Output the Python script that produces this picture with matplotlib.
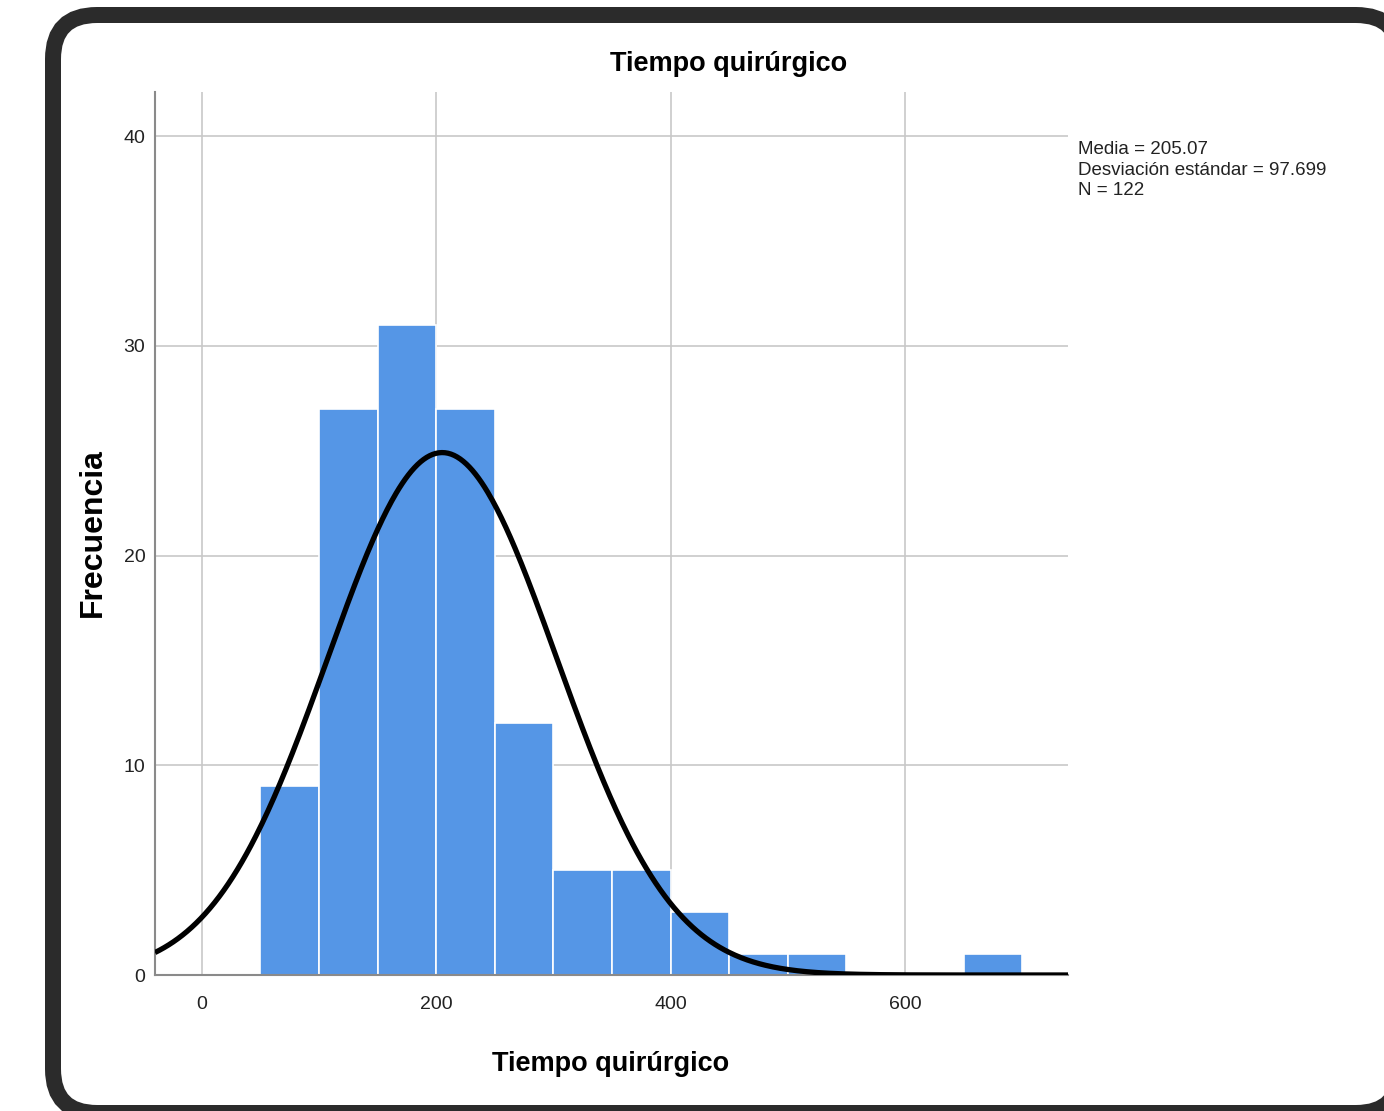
import numpy as np
import matplotlib
matplotlib.use("Agg")
import matplotlib.pyplot as plt
from matplotlib.patches import FancyBboxPatch

# Datos del histograma
bin_edges = [50, 100, 150, 200, 250, 300, 350, 400, 450, 500, 550, 600, 650, 700]
frecuencias = [9, 27, 31, 27, 12, 5, 5, 3, 1, 1, 0, 0, 1]
media = 205.07
desv = 97.699
n_total = 122

x_ticks = [0, 200, 400, 600]
y_ticks = [0, 10, 20, 30, 40]

plt.rcParams['font.family'] = ['Liberation Sans', 'DejaVu Sans']

W, H = 1384, 1111
fig = plt.figure(figsize=(W / 100, H / 100), dpi=100)

# Marco redondeado de fondo
bg = fig.add_axes([0, 0, 1, 1], zorder=0)
bg.set_xlim(0, W)
bg.set_ylim(H, 0)
bg.axis("off")
marco = FancyBboxPatch((53, 15), 1400 - 53, 1113 - 15,
                       boxstyle="round,pad=0,rounding_size=44",
                       linewidth=16 * 0.72, edgecolor='#2b2b2b', facecolor='white')
bg.add_patch(marco)

# Ejes del histograma
ax = fig.add_axes([155 / W, 1 - 975 / H, (1068 - 155) / W, (975 - 92) / H], zorder=1)
ax.patch.set_alpha(0)

anchos = np.diff(bin_edges)
ax.bar(bin_edges[:-1], frecuencias, width=anchos, align='edge',
       color='#5596e6', edgecolor='white', linewidth=1.2, zorder=2)

# Curva normal
bw = bin_edges[1] - bin_edges[0]
xs = np.linspace(-40, 740, 600)
ys = n_total * bw / (desv * np.sqrt(2 * np.pi)) * np.exp(-0.5 * ((xs - media) / desv) ** 2)
ax.plot(xs, ys, color='black', linewidth=3.8, zorder=3, solid_capstyle='butt')

ax.set_xlim(-40, 739)
ax.set_ylim(0, 42.1)
ax.set_xticks(x_ticks)
ax.set_yticks(y_ticks)
ax.grid(True, color='#c8c8c8', linewidth=1.2, zorder=0)
ax.set_axisbelow(True)
for s in ['top', 'right']:
    ax.spines[s].set_visible(False)
for s in ['left', 'bottom']:
    ax.spines[s].set_color('#8a8a8a')
    ax.spines[s].set_linewidth(1.5)
ax.tick_params(length=0, labelsize=14, colors='#222222')
ax.tick_params(axis='x', pad=15)
ax.tick_params(axis='y', pad=7)

fig.text(729 / W, 1 - 64 / H, "Tiempo quirúrgico", ha='center', va='center',
         fontsize=19.5, fontweight='bold')
fig.text(611 / W, 1 - 1064 / H, "Tiempo quirúrgico", ha='center', va='center',
         fontsize=19.5, fontweight='bold')
fig.text(93 / W, 1 - 533 / H, "Frecuencia", ha='center', va='center', rotation=90,
         fontsize=23, fontweight='bold')

fig.text(1078 / W, 1 - 141 / H,
         "Media = %.2f\nDesviación estándar = %.3f\nN = %d" % (media, desv, n_total),
         ha='left', va='top', fontsize=13.5, linespacing=1.27, color='#222222')

fig.savefig("out.png", dpi=100)
